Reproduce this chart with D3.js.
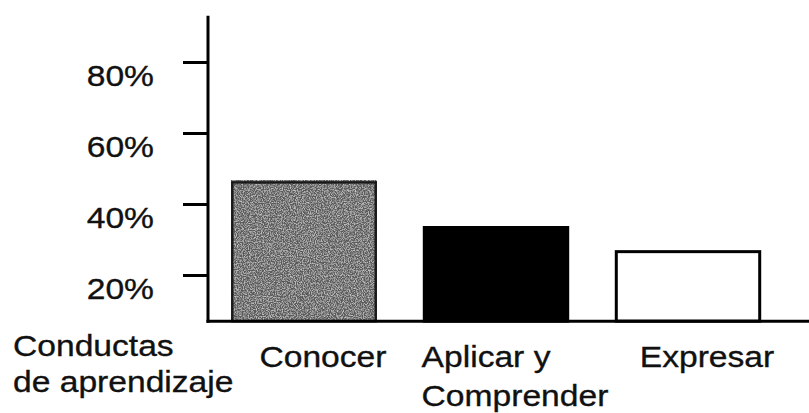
<!DOCTYPE html>
<html>
<head>
<meta charset="utf-8">
<script src="https://cdn.jsdelivr.net/npm/d3@7"></script>
<style>
  html, body { margin: 0; padding: 0; background: #fff; }
  svg { display: block; }
  text { font-family: "Liberation Sans", Arial, Helvetica, sans-serif; fill: #111; stroke: #111; stroke-width: 0.35px; }
</style>
</head>
<body>
<svg id="chart" width="809" height="413"></svg>
<script>
// ---- data ----
const categories = [["Conocer"], ["Aplicar y", "Comprender"], ["Expresar"]];
const values = [46.5, 33.8, 27.0];
const fills = ["#6e6e6e", "#000000", "#ffffff"];
const tickValues = [20, 40, 60, 80];
const axisTitle = ["Conductas", "de aprendizaje"];
const axisFloor = 7;   // value where the horizontal base line sits
const axisTop = 93;    // value where the vertical axis ends

const svg = d3.select("#chart");
const W = 809, H = 413;
const fontSize = 30;
const stretch = 1.12;   // the scanned type is a little wider than Arial

function widen(sel) {
  sel.each(function () {
    const w = this.getComputedTextLength();
    d3.select(this).attr("textLength", w * stretch).attr("lengthAdjust", "spacingAndGlyphs");
  });
}

const keys = categories.map(c => c.join(" "));
const x = d3.scaleBand().domain(keys).range([208, 784]).paddingInner(0.24).paddingOuter(0.12);
const y = d3.scaleLinear().domain([0, 100]).range([346, -9]);

// texture for the first (gray, scanned) bar
const defs = svg.append("defs");
const f = defs.append("filter").attr("id", "grain").attr("x", 0).attr("y", 0).attr("width", 1).attr("height", 1);
f.append("feTurbulence").attr("type", "fractalNoise").attr("baseFrequency", 0.85).attr("numOctaves", 2).attr("seed", 3).attr("result", "n");
f.append("feColorMatrix").attr("in", "n").attr("type", "matrix")
  .attr("values", "0 0 0 0 0.1  0 0 0 0 0.1  0 0 0 0 0.1  0 0 0 -2.6 2.05").attr("result", "dots");
f.append("feFlood").attr("flood-color", "#c4c4c4").attr("result", "light");
f.append("feComposite").attr("in", "dots").attr("in2", "light").attr("operator", "over");

// bars
const g = svg.append("g");
keys.forEach((k, i) => {
  const x0 = x(k), bw = x.bandwidth();
  const top = y(values[i]), bot = y(axisFloor);
  if (i === 0) {
    g.append("rect").attr("x", x0).attr("y", top).attr("width", bw).attr("height", bot - top)
      .attr("fill", fills[i]).attr("filter", "url(#grain)");
    g.append("rect").attr("x", x0 + 1.25).attr("y", top + 1.5).attr("width", bw - 2.5).attr("height", bot - top - 1.5)
      .attr("fill", "none").attr("stroke", "#1a1a1a").attr("stroke-width", 2.5);
  } else {
    g.append("rect").attr("x", x0 + 1.25).attr("y", top + 1.5).attr("width", bw - 2.5).attr("height", bot - top - 1.5)
      .attr("fill", fills[i]).attr("stroke", "#000").attr("stroke-width", 3);
  }
});

// y axis
const axis = d3.axisLeft(y).tickValues(tickValues).tickSize(25).tickPadding(29).tickFormat(d => d + "%");
const ag = svg.append("g").attr("transform", "translate(208,0)").call(axis);
ag.attr("font-family", null).attr("font-size", null);
ag.select(".domain").remove();
ag.selectAll(".tick line").attr("stroke", "#000").attr("stroke-width", 3);
ag.selectAll(".tick text").attr("dy", null).attr("y", 23).attr("fill", "#111")
  .style("font-size", fontSize + "px");
widen(ag.selectAll(".tick text"));

// axis lines
svg.append("line").attr("x1", 208).attr("x2", 208).attr("y1", y(axisTop)).attr("y2", y(axisFloor) + 1.5)
  .attr("stroke", "#000").attr("stroke-width", 3);
svg.append("line").attr("x1", 206.5).attr("x2", W).attr("y1", y(axisFloor)).attr("y2", y(axisFloor))
  .attr("stroke", "#000").attr("stroke-width", 3);

// axis title (bottom-left)
const t = svg.append("text").attr("x", 13).attr("y", 356).style("font-size", fontSize + "px");
axisTitle.forEach((s, i) => t.append("tspan").attr("x", 13).attr("dy", i === 0 ? 0 : 36).text(s));
widen(t.selectAll("tspan"));

// category labels: left-aligned lines, block centred a bit right of the band centre
keys.forEach((k, i) => {
  const lines = categories[i];
  const lt = svg.append("text").attr("y", 367).style("font-size", fontSize + "px");
  lines.forEach((s, j) => lt.append("tspan").attr("dy", j === 0 ? 0 : 39).text(s));
  const widths = lt.selectAll("tspan").nodes().map(n => n.getComputedTextLength() * stretch);
  const bw = Math.max(...widths);
  const left = x(k) + x.bandwidth() / 2 + 19 - bw / 2;
  lt.selectAll("tspan").attr("x", left);
  widen(lt.selectAll("tspan"));
});
</script>
</body>
</html>
